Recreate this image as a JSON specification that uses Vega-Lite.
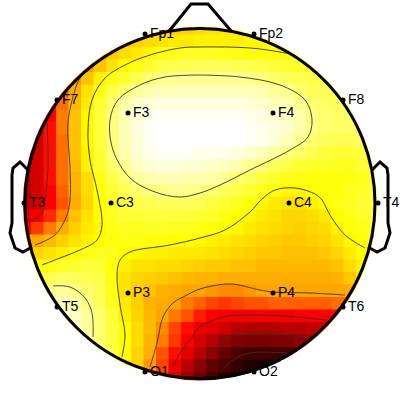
{"$schema":"https://vega.github.io/schema/vega-lite/v6.json","width":400,"height":400,"padding":0,"autosize":"none","background":"white","config":{"view":{"stroke":null}},
"datasets":{"cells":[
{"x":-4,"y":14,"v":33},{"x":-3,"y":14,"v":33},{"x":-2,"y":14,"v":32},{"x":-1,"y":14,"v":31},{"x":0,"y":14,"v":30},{"x":1,"y":14,"v":29},{"x":2,"y":14,"v":28},{"x":3,"y":14,"v":28},{"x":4,"y":14,"v":27},
{"x":-6,"y":13,"v":33},{"x":-5,"y":13,"v":32},{"x":-4,"y":13,"v":30},{"x":-3,"y":13,"v":29},{"x":-2,"y":13,"v":28},{"x":-1,"y":13,"v":28},{"x":0,"y":13,"v":27},{"x":1,"y":13,"v":27},{"x":2,"y":13,"v":27},{"x":3,"y":13,"v":27},{"x":4,"y":13,"v":26},{"x":5,"y":13,"v":26},{"x":6,"y":13,"v":25},{"x":7,"y":13,"v":25},
{"x":-8,"y":12,"v":37},{"x":-7,"y":12,"v":33},{"x":-6,"y":12,"v":30},{"x":-5,"y":12,"v":28},{"x":-4,"y":12,"v":26},{"x":-3,"y":12,"v":23},{"x":-2,"y":12,"v":23},{"x":-1,"y":12,"v":22},{"x":0,"y":12,"v":22},{"x":1,"y":12,"v":22},{"x":2,"y":12,"v":23},{"x":3,"y":12,"v":23},{"x":4,"y":12,"v":24},{"x":5,"y":12,"v":24},{"x":6,"y":12,"v":25},{"x":7,"y":12,"v":25},{"x":8,"y":12,"v":24},
{"x":-9,"y":11,"v":39},{"x":-8,"y":11,"v":34},{"x":-7,"y":11,"v":29},{"x":-6,"y":11,"v":25},{"x":-5,"y":11,"v":23},{"x":-4,"y":11,"v":20},{"x":-3,"y":11,"v":18},{"x":-2,"y":11,"v":17},{"x":-1,"y":11,"v":17},{"x":0,"y":11,"v":16},{"x":1,"y":11,"v":16},{"x":2,"y":11,"v":16},{"x":3,"y":11,"v":17},{"x":4,"y":11,"v":17},{"x":5,"y":11,"v":18},{"x":6,"y":11,"v":19},{"x":7,"y":11,"v":20},{"x":8,"y":11,"v":21},{"x":9,"y":11,"v":21},
{"x":-10,"y":10,"v":39},{"x":-9,"y":10,"v":34},{"x":-8,"y":10,"v":27},{"x":-7,"y":10,"v":23},{"x":-6,"y":10,"v":20},{"x":-5,"y":10,"v":17},{"x":-4,"y":10,"v":14},{"x":-3,"y":10,"v":12},{"x":-2,"y":10,"v":11},{"x":-1,"y":10,"v":11},{"x":0,"y":10,"v":11},{"x":1,"y":10,"v":11},{"x":2,"y":10,"v":11},{"x":3,"y":10,"v":11},{"x":4,"y":10,"v":12},{"x":5,"y":10,"v":13},{"x":6,"y":10,"v":15},{"x":7,"y":10,"v":16},{"x":8,"y":10,"v":17},{"x":9,"y":10,"v":18},{"x":10,"y":10,"v":18},
{"x":-11,"y":9,"v":43},{"x":-10,"y":9,"v":37},{"x":-9,"y":9,"v":29},{"x":-8,"y":9,"v":23},{"x":-7,"y":9,"v":18},{"x":-6,"y":9,"v":14},{"x":-5,"y":9,"v":10},{"x":-4,"y":9,"v":8},{"x":-3,"y":9,"v":7},{"x":-2,"y":9,"v":7},{"x":-1,"y":9,"v":7},{"x":0,"y":9,"v":7},{"x":1,"y":9,"v":7},{"x":2,"y":9,"v":7},{"x":3,"y":9,"v":7},{"x":4,"y":9,"v":7},{"x":5,"y":9,"v":8},{"x":6,"y":9,"v":10},{"x":7,"y":9,"v":11},{"x":8,"y":9,"v":14},{"x":9,"y":9,"v":16},{"x":10,"y":9,"v":17},{"x":11,"y":9,"v":17},
{"x":-12,"y":8,"v":48},{"x":-11,"y":8,"v":42},{"x":-10,"y":8,"v":35},{"x":-9,"y":8,"v":28},{"x":-8,"y":8,"v":20},{"x":-7,"y":8,"v":14},{"x":-6,"y":8,"v":9},{"x":-5,"y":8,"v":5},{"x":-4,"y":8,"v":4},{"x":-3,"y":8,"v":3},{"x":-2,"y":8,"v":3},{"x":-1,"y":8,"v":3},{"x":0,"y":8,"v":3},{"x":1,"y":8,"v":3},{"x":2,"y":8,"v":3},{"x":3,"y":8,"v":3},{"x":4,"y":8,"v":4},{"x":5,"y":8,"v":5},{"x":6,"y":8,"v":7},{"x":7,"y":8,"v":8},{"x":8,"y":8,"v":11},{"x":9,"y":8,"v":14},{"x":10,"y":8,"v":15},{"x":11,"y":8,"v":16},{"x":12,"y":8,"v":16},
{"x":-13,"y":7,"v":57},{"x":-12,"y":7,"v":50},{"x":-11,"y":7,"v":41},{"x":-10,"y":7,"v":34},{"x":-9,"y":7,"v":26},{"x":-8,"y":7,"v":19},{"x":-7,"y":7,"v":13},{"x":-6,"y":7,"v":7},{"x":-5,"y":7,"v":4},{"x":-4,"y":7,"v":2},{"x":-3,"y":7,"v":1},{"x":-2,"y":7,"v":1},{"x":-1,"y":7,"v":1},{"x":0,"y":7,"v":1},{"x":1,"y":7,"v":1},{"x":2,"y":7,"v":1},{"x":3,"y":7,"v":1},{"x":4,"y":7,"v":2},{"x":5,"y":7,"v":3},{"x":6,"y":7,"v":4},{"x":7,"y":7,"v":6},{"x":8,"y":7,"v":8},{"x":9,"y":7,"v":12},{"x":10,"y":7,"v":14},{"x":11,"y":7,"v":15},{"x":12,"y":7,"v":15},{"x":13,"y":7,"v":15},
{"x":-13,"y":6,"v":57},{"x":-12,"y":6,"v":49},{"x":-11,"y":6,"v":41},{"x":-10,"y":6,"v":34},{"x":-9,"y":6,"v":26},{"x":-8,"y":6,"v":19},{"x":-7,"y":6,"v":13},{"x":-6,"y":6,"v":7},{"x":-5,"y":6,"v":3},{"x":-4,"y":6,"v":1},{"x":-3,"y":6,"v":0},{"x":-2,"y":6,"v":0},{"x":-1,"y":6,"v":0},{"x":0,"y":6,"v":0},{"x":1,"y":6,"v":0},{"x":2,"y":6,"v":0},{"x":3,"y":6,"v":0},{"x":4,"y":6,"v":1},{"x":5,"y":6,"v":2},{"x":6,"y":6,"v":3},{"x":7,"y":6,"v":5},{"x":8,"y":6,"v":8},{"x":9,"y":6,"v":12},{"x":10,"y":6,"v":14},{"x":11,"y":6,"v":15},{"x":12,"y":6,"v":15},{"x":13,"y":6,"v":15},
{"x":-14,"y":5,"v":60},{"x":-13,"y":5,"v":57},{"x":-12,"y":5,"v":49},{"x":-11,"y":5,"v":42},{"x":-10,"y":5,"v":34},{"x":-9,"y":5,"v":26},{"x":-8,"y":5,"v":19},{"x":-7,"y":5,"v":13},{"x":-6,"y":5,"v":7},{"x":-5,"y":5,"v":4},{"x":-4,"y":5,"v":1},{"x":-3,"y":5,"v":0},{"x":-2,"y":5,"v":0},{"x":-1,"y":5,"v":0},{"x":0,"y":5,"v":0},{"x":1,"y":5,"v":0},{"x":2,"y":5,"v":0},{"x":3,"y":5,"v":0},{"x":4,"y":5,"v":1},{"x":5,"y":5,"v":2},{"x":6,"y":5,"v":4},{"x":7,"y":5,"v":7},{"x":8,"y":5,"v":11},{"x":9,"y":5,"v":14},{"x":10,"y":5,"v":16},{"x":11,"y":5,"v":17},{"x":12,"y":5,"v":17},{"x":13,"y":5,"v":16},{"x":14,"y":5,"v":16},
{"x":-14,"y":4,"v":60},{"x":-13,"y":4,"v":57},{"x":-12,"y":4,"v":49},{"x":-11,"y":4,"v":42},{"x":-10,"y":4,"v":34},{"x":-9,"y":4,"v":27},{"x":-8,"y":4,"v":20},{"x":-7,"y":4,"v":13},{"x":-6,"y":4,"v":8},{"x":-5,"y":4,"v":4},{"x":-4,"y":4,"v":2},{"x":-3,"y":4,"v":1},{"x":-2,"y":4,"v":1},{"x":-1,"y":4,"v":1},{"x":0,"y":4,"v":2},{"x":1,"y":4,"v":2},{"x":2,"y":4,"v":2},{"x":3,"y":4,"v":3},{"x":4,"y":4,"v":5},{"x":5,"y":4,"v":7},{"x":6,"y":4,"v":10},{"x":7,"y":4,"v":13},{"x":8,"y":4,"v":15},{"x":9,"y":4,"v":17},{"x":10,"y":4,"v":19},{"x":11,"y":4,"v":20},{"x":12,"y":4,"v":20},{"x":13,"y":4,"v":19},{"x":14,"y":4,"v":18},
{"x":-14,"y":3,"v":60},{"x":-13,"y":3,"v":56},{"x":-12,"y":3,"v":49},{"x":-11,"y":3,"v":42},{"x":-10,"y":3,"v":35},{"x":-9,"y":3,"v":27},{"x":-8,"y":3,"v":21},{"x":-7,"y":3,"v":15},{"x":-6,"y":3,"v":11},{"x":-5,"y":3,"v":6},{"x":-4,"y":3,"v":4},{"x":-3,"y":3,"v":3},{"x":-2,"y":3,"v":3},{"x":-1,"y":3,"v":4},{"x":0,"y":3,"v":4},{"x":1,"y":3,"v":5},{"x":2,"y":3,"v":6},{"x":3,"y":3,"v":8},{"x":4,"y":3,"v":11},{"x":5,"y":3,"v":13},{"x":6,"y":3,"v":16},{"x":7,"y":3,"v":18},{"x":8,"y":3,"v":20},{"x":9,"y":3,"v":21},{"x":10,"y":3,"v":21},{"x":11,"y":3,"v":22},{"x":12,"y":3,"v":22},{"x":13,"y":3,"v":20},{"x":14,"y":3,"v":19},
{"x":-14,"y":2,"v":60},{"x":-13,"y":2,"v":56},{"x":-12,"y":2,"v":49},{"x":-11,"y":2,"v":42},{"x":-10,"y":2,"v":36},{"x":-9,"y":2,"v":30},{"x":-8,"y":2,"v":23},{"x":-7,"y":2,"v":18},{"x":-6,"y":2,"v":14},{"x":-5,"y":2,"v":10},{"x":-4,"y":2,"v":8},{"x":-3,"y":2,"v":7},{"x":-2,"y":2,"v":7},{"x":-1,"y":2,"v":8},{"x":0,"y":2,"v":8},{"x":1,"y":2,"v":9},{"x":2,"y":2,"v":11},{"x":3,"y":2,"v":14},{"x":4,"y":2,"v":16},{"x":5,"y":2,"v":19},{"x":6,"y":2,"v":21},{"x":7,"y":2,"v":23},{"x":8,"y":2,"v":23},{"x":9,"y":2,"v":24},{"x":10,"y":2,"v":24},{"x":11,"y":2,"v":24},{"x":12,"y":2,"v":23},{"x":13,"y":2,"v":22},{"x":14,"y":2,"v":20},
{"x":-14,"y":1,"v":60},{"x":-13,"y":1,"v":56},{"x":-12,"y":1,"v":50},{"x":-11,"y":1,"v":43},{"x":-10,"y":1,"v":36},{"x":-9,"y":1,"v":30},{"x":-8,"y":1,"v":24},{"x":-7,"y":1,"v":20},{"x":-6,"y":1,"v":17},{"x":-5,"y":1,"v":14},{"x":-4,"y":1,"v":13},{"x":-3,"y":1,"v":12},{"x":-2,"y":1,"v":11},{"x":-1,"y":1,"v":11},{"x":0,"y":1,"v":12},{"x":1,"y":1,"v":14},{"x":2,"y":1,"v":16},{"x":3,"y":1,"v":18},{"x":4,"y":1,"v":20},{"x":5,"y":1,"v":22},{"x":6,"y":1,"v":24},{"x":7,"y":1,"v":26},{"x":8,"y":1,"v":26},{"x":9,"y":1,"v":25},{"x":10,"y":1,"v":24},{"x":11,"y":1,"v":24},{"x":12,"y":1,"v":22},{"x":13,"y":1,"v":21},{"x":14,"y":1,"v":20},
{"x":-14,"y":0,"v":59},{"x":-13,"y":0,"v":56},{"x":-12,"y":0,"v":50},{"x":-11,"y":0,"v":44},{"x":-10,"y":0,"v":37},{"x":-9,"y":0,"v":31},{"x":-8,"y":0,"v":25},{"x":-7,"y":0,"v":22},{"x":-6,"y":0,"v":19},{"x":-5,"y":0,"v":18},{"x":-4,"y":0,"v":17},{"x":-3,"y":0,"v":16},{"x":-2,"y":0,"v":16},{"x":-1,"y":0,"v":16},{"x":0,"y":0,"v":17},{"x":1,"y":0,"v":19},{"x":2,"y":0,"v":20},{"x":3,"y":0,"v":22},{"x":4,"y":0,"v":24},{"x":5,"y":0,"v":26},{"x":6,"y":0,"v":28},{"x":7,"y":0,"v":29},{"x":8,"y":0,"v":30},{"x":9,"y":0,"v":27},{"x":10,"y":0,"v":25},{"x":11,"y":0,"v":23},{"x":12,"y":0,"v":22},{"x":13,"y":0,"v":20},{"x":14,"y":0,"v":19},
{"x":-14,"y":-1,"v":55},{"x":-13,"y":-1,"v":51},{"x":-12,"y":-1,"v":47},{"x":-11,"y":-1,"v":41},{"x":-10,"y":-1,"v":34},{"x":-9,"y":-1,"v":29},{"x":-8,"y":-1,"v":25},{"x":-7,"y":-1,"v":22},{"x":-6,"y":-1,"v":20},{"x":-5,"y":-1,"v":20},{"x":-4,"y":-1,"v":19},{"x":-3,"y":-1,"v":19},{"x":-2,"y":-1,"v":19},{"x":-1,"y":-1,"v":19},{"x":0,"y":-1,"v":20},{"x":1,"y":-1,"v":21},{"x":2,"y":-1,"v":23},{"x":3,"y":-1,"v":25},{"x":4,"y":-1,"v":26},{"x":5,"y":-1,"v":28},{"x":6,"y":-1,"v":29},{"x":7,"y":-1,"v":31},{"x":8,"y":-1,"v":31},{"x":9,"y":-1,"v":30},{"x":10,"y":-1,"v":28},{"x":11,"y":-1,"v":25},{"x":12,"y":-1,"v":23},{"x":13,"y":-1,"v":21},{"x":14,"y":-1,"v":20},
{"x":-14,"y":-2,"v":50},{"x":-13,"y":-2,"v":46},{"x":-12,"y":-2,"v":41},{"x":-11,"y":-2,"v":37},{"x":-10,"y":-2,"v":32},{"x":-9,"y":-2,"v":28},{"x":-8,"y":-2,"v":26},{"x":-7,"y":-2,"v":23},{"x":-6,"y":-2,"v":22},{"x":-5,"y":-2,"v":22},{"x":-4,"y":-2,"v":21},{"x":-3,"y":-2,"v":21},{"x":-2,"y":-2,"v":22},{"x":-1,"y":-2,"v":22},{"x":0,"y":-2,"v":23},{"x":1,"y":-2,"v":24},{"x":2,"y":-2,"v":25},{"x":3,"y":-2,"v":26},{"x":4,"y":-2,"v":28},{"x":5,"y":-2,"v":29},{"x":6,"y":-2,"v":30},{"x":7,"y":-2,"v":31},{"x":8,"y":-2,"v":32},{"x":9,"y":-2,"v":31},{"x":10,"y":-2,"v":30},{"x":11,"y":-2,"v":27},{"x":12,"y":-2,"v":24},{"x":13,"y":-2,"v":23},{"x":14,"y":-2,"v":21},
{"x":-14,"y":-3,"v":39},{"x":-13,"y":-3,"v":38},{"x":-12,"y":-3,"v":35},{"x":-11,"y":-3,"v":32},{"x":-10,"y":-3,"v":29},{"x":-9,"y":-3,"v":27},{"x":-8,"y":-3,"v":25},{"x":-7,"y":-3,"v":24},{"x":-6,"y":-3,"v":23},{"x":-5,"y":-3,"v":23},{"x":-4,"y":-3,"v":24},{"x":-3,"y":-3,"v":24},{"x":-2,"y":-3,"v":25},{"x":-1,"y":-3,"v":25},{"x":0,"y":-3,"v":26},{"x":1,"y":-3,"v":27},{"x":2,"y":-3,"v":28},{"x":3,"y":-3,"v":29},{"x":4,"y":-3,"v":30},{"x":5,"y":-3,"v":31},{"x":6,"y":-3,"v":32},{"x":7,"y":-3,"v":33},{"x":8,"y":-3,"v":33},{"x":9,"y":-3,"v":32},{"x":10,"y":-3,"v":31},{"x":11,"y":-3,"v":29},{"x":12,"y":-3,"v":26},{"x":13,"y":-3,"v":24},{"x":14,"y":-3,"v":22},
{"x":-14,"y":-4,"v":33},{"x":-13,"y":-4,"v":31},{"x":-12,"y":-4,"v":29},{"x":-11,"y":-4,"v":27},{"x":-10,"y":-4,"v":25},{"x":-9,"y":-4,"v":23},{"x":-8,"y":-4,"v":22},{"x":-7,"y":-4,"v":22},{"x":-6,"y":-4,"v":25},{"x":-5,"y":-4,"v":26},{"x":-4,"y":-4,"v":27},{"x":-3,"y":-4,"v":27},{"x":-2,"y":-4,"v":28},{"x":-1,"y":-4,"v":28},{"x":0,"y":-4,"v":28},{"x":1,"y":-4,"v":29},{"x":2,"y":-4,"v":30},{"x":3,"y":-4,"v":31},{"x":4,"y":-4,"v":32},{"x":5,"y":-4,"v":33},{"x":6,"y":-4,"v":33},{"x":7,"y":-4,"v":34},{"x":8,"y":-4,"v":34},{"x":9,"y":-4,"v":34},{"x":10,"y":-4,"v":33},{"x":11,"y":-4,"v":31},{"x":12,"y":-4,"v":28},{"x":13,"y":-4,"v":25},{"x":14,"y":-4,"v":22},
{"x":-13,"y":-5,"v":25},{"x":-12,"y":-5,"v":23},{"x":-11,"y":-5,"v":21},{"x":-10,"y":-5,"v":20},{"x":-9,"y":-5,"v":19},{"x":-8,"y":-5,"v":20},{"x":-7,"y":-5,"v":24},{"x":-6,"y":-5,"v":27},{"x":-5,"y":-5,"v":29},{"x":-4,"y":-5,"v":29},{"x":-3,"y":-5,"v":30},{"x":-2,"y":-5,"v":30},{"x":-1,"y":-5,"v":31},{"x":0,"y":-5,"v":32},{"x":1,"y":-5,"v":33},{"x":2,"y":-5,"v":33},{"x":3,"y":-5,"v":34},{"x":4,"y":-5,"v":34},{"x":5,"y":-5,"v":35},{"x":6,"y":-5,"v":35},{"x":7,"y":-5,"v":35},{"x":8,"y":-5,"v":35},{"x":9,"y":-5,"v":35},{"x":10,"y":-5,"v":35},{"x":11,"y":-5,"v":34},{"x":12,"y":-5,"v":30},{"x":13,"y":-5,"v":27},
{"x":-13,"y":-6,"v":20},{"x":-12,"y":-6,"v":17},{"x":-11,"y":-6,"v":15},{"x":-10,"y":-6,"v":16},{"x":-9,"y":-6,"v":17},{"x":-8,"y":-6,"v":18},{"x":-7,"y":-6,"v":24},{"x":-6,"y":-6,"v":29},{"x":-5,"y":-6,"v":31},{"x":-4,"y":-6,"v":32},{"x":-3,"y":-6,"v":33},{"x":-2,"y":-6,"v":34},{"x":-1,"y":-6,"v":35},{"x":0,"y":-6,"v":36},{"x":1,"y":-6,"v":36},{"x":2,"y":-6,"v":37},{"x":3,"y":-6,"v":37},{"x":4,"y":-6,"v":37},{"x":5,"y":-6,"v":37},{"x":6,"y":-6,"v":37},{"x":7,"y":-6,"v":37},{"x":8,"y":-6,"v":37},{"x":9,"y":-6,"v":37},{"x":10,"y":-6,"v":37},{"x":11,"y":-6,"v":36},{"x":12,"y":-6,"v":33},{"x":13,"y":-6,"v":29},
{"x":-12,"y":-7,"v":11},{"x":-11,"y":-7,"v":10},{"x":-10,"y":-7,"v":12},{"x":-9,"y":-7,"v":14},{"x":-8,"y":-7,"v":17},{"x":-7,"y":-7,"v":23},{"x":-6,"y":-7,"v":29},{"x":-5,"y":-7,"v":32},{"x":-4,"y":-7,"v":34},{"x":-3,"y":-7,"v":36},{"x":-2,"y":-7,"v":37},{"x":-1,"y":-7,"v":38},{"x":0,"y":-7,"v":38},{"x":1,"y":-7,"v":39},{"x":2,"y":-7,"v":40},{"x":3,"y":-7,"v":40},{"x":4,"y":-7,"v":39},{"x":5,"y":-7,"v":38},{"x":6,"y":-7,"v":38},{"x":7,"y":-7,"v":38},{"x":8,"y":-7,"v":38},{"x":9,"y":-7,"v":38},{"x":10,"y":-7,"v":38},{"x":11,"y":-7,"v":38},{"x":12,"y":-7,"v":37},
{"x":-12,"y":-8,"v":8},{"x":-11,"y":-8,"v":6},{"x":-10,"y":-8,"v":8},{"x":-9,"y":-8,"v":12},{"x":-8,"y":-8,"v":16},{"x":-7,"y":-8,"v":22},{"x":-6,"y":-8,"v":28},{"x":-5,"y":-8,"v":32},{"x":-4,"y":-8,"v":36},{"x":-3,"y":-8,"v":37},{"x":-2,"y":-8,"v":38},{"x":-1,"y":-8,"v":41},{"x":0,"y":-8,"v":43},{"x":1,"y":-8,"v":45},{"x":2,"y":-8,"v":46},{"x":3,"y":-8,"v":45},{"x":4,"y":-8,"v":44},{"x":5,"y":-8,"v":44},{"x":6,"y":-8,"v":43},{"x":7,"y":-8,"v":43},{"x":8,"y":-8,"v":43},{"x":9,"y":-8,"v":43},{"x":10,"y":-8,"v":43},{"x":11,"y":-8,"v":42},{"x":12,"y":-8,"v":41},
{"x":-12,"y":-9,"v":5},{"x":-11,"y":-9,"v":3},{"x":-10,"y":-9,"v":6},{"x":-9,"y":-9,"v":10},{"x":-8,"y":-9,"v":14},{"x":-7,"y":-9,"v":20},{"x":-6,"y":-9,"v":27},{"x":-5,"y":-9,"v":31},{"x":-4,"y":-9,"v":35},{"x":-3,"y":-9,"v":38},{"x":-2,"y":-9,"v":41},{"x":-1,"y":-9,"v":44},{"x":0,"y":-9,"v":48},{"x":1,"y":-9,"v":50},{"x":2,"y":-9,"v":51},{"x":3,"y":-9,"v":51},{"x":4,"y":-9,"v":51},{"x":5,"y":-9,"v":51},{"x":6,"y":-9,"v":51},{"x":7,"y":-9,"v":51},{"x":8,"y":-9,"v":50},{"x":9,"y":-9,"v":50},{"x":10,"y":-9,"v":50},{"x":11,"y":-9,"v":49},
{"x":-11,"y":-10,"v":1},{"x":-10,"y":-10,"v":5},{"x":-9,"y":-10,"v":10},{"x":-8,"y":-10,"v":14},{"x":-7,"y":-10,"v":19},{"x":-6,"y":-10,"v":25},{"x":-5,"y":-10,"v":30},{"x":-4,"y":-10,"v":35},{"x":-3,"y":-10,"v":40},{"x":-2,"y":-10,"v":45},{"x":-1,"y":-10,"v":49},{"x":0,"y":-10,"v":52},{"x":1,"y":-10,"v":54},{"x":2,"y":-10,"v":57},{"x":3,"y":-10,"v":60},{"x":4,"y":-10,"v":61},{"x":5,"y":-10,"v":61},{"x":6,"y":-10,"v":61},{"x":7,"y":-10,"v":60},{"x":8,"y":-10,"v":60},{"x":9,"y":-10,"v":59},{"x":10,"y":-10,"v":57},
{"x":-10,"y":-11,"v":5},{"x":-9,"y":-11,"v":9},{"x":-8,"y":-11,"v":14},{"x":-7,"y":-11,"v":19},{"x":-6,"y":-11,"v":25},{"x":-5,"y":-11,"v":30},{"x":-4,"y":-11,"v":36},{"x":-3,"y":-11,"v":41},{"x":-2,"y":-11,"v":46},{"x":-1,"y":-11,"v":50},{"x":0,"y":-11,"v":56},{"x":1,"y":-11,"v":60},{"x":2,"y":-11,"v":65},{"x":3,"y":-11,"v":68},{"x":4,"y":-11,"v":69},{"x":5,"y":-11,"v":69},{"x":6,"y":-11,"v":68},{"x":7,"y":-11,"v":68},{"x":8,"y":-11,"v":66},{"x":9,"y":-11,"v":63},{"x":10,"y":-11,"v":60},
{"x":-8,"y":-12,"v":14},{"x":-7,"y":-12,"v":18},{"x":-6,"y":-12,"v":25},{"x":-5,"y":-12,"v":31},{"x":-4,"y":-12,"v":37},{"x":-3,"y":-12,"v":44},{"x":-2,"y":-12,"v":49},{"x":-1,"y":-12,"v":54},{"x":0,"y":-12,"v":60},{"x":1,"y":-12,"v":66},{"x":2,"y":-12,"v":72},{"x":3,"y":-12,"v":76},{"x":4,"y":-12,"v":78},{"x":5,"y":-12,"v":78},{"x":6,"y":-12,"v":78},{"x":7,"y":-12,"v":77},{"x":8,"y":-12,"v":73},
{"x":-6,"y":-13,"v":28},{"x":-5,"y":-13,"v":31},{"x":-4,"y":-13,"v":39},{"x":-3,"y":-13,"v":45},{"x":-2,"y":-13,"v":52},{"x":-1,"y":-13,"v":60},{"x":0,"y":-13,"v":66},{"x":1,"y":-13,"v":73},{"x":2,"y":-13,"v":76},{"x":3,"y":-13,"v":80},{"x":4,"y":-13,"v":84},{"x":5,"y":-13,"v":85},{"x":6,"y":-13,"v":84},
{"x":-4,"y":-14,"v":40},{"x":-3,"y":-14,"v":47},{"x":-2,"y":-14,"v":55},{"x":-1,"y":-14,"v":64},{"x":0,"y":-14,"v":71},{"x":1,"y":-14,"v":76},{"x":2,"y":-14,"v":82},{"x":3,"y":-14,"v":87},{"x":4,"y":-14,"v":88}
],
"contours":[
{"c":"A","x":0,"y":10.28},{"c":"A","x":3.2,"y":10.12},{"c":"A","x":6.4,"y":9.48},{"c":"A","x":8.4,"y":8.28},{"c":"A","x":8.96,"y":6.68},{"c":"A","x":8.64,"y":5.32},{"c":"A","x":7.2,"y":4.28},{"c":"A","x":4,"y":2.68},{"c":"A","x":1.6,"y":1.48},{"c":"A","x":0,"y":0.84},{"c":"A","x":-1.6,"y":0.52},{"c":"A","x":-3.6,"y":0.92},{"c":"A","x":-5.6,"y":2.04},{"c":"A","x":-6.96,"y":4.28},{"c":"A","x":-7.2,"y":6.68},{"c":"A","x":-6.56,"y":8.28},{"c":"A","x":-4.8,"y":9.48},{"c":"A","x":-2.8,"y":10.12},{"c":"A","x":0,"y":10.28},
{"c":"B","x":7.6,"y":11.88},{"c":"B","x":6.4,"y":12.12},{"c":"B","x":4,"y":12.44},{"c":"B","x":0,"y":12.52},{"c":"B","x":-1.6,"y":12.44},{"c":"B","x":-4,"y":11.88},{"c":"B","x":-6,"y":11.08},{"c":"B","x":-7.6,"y":10.04},{"c":"B","x":-8.64,"y":8.28},{"c":"B","x":-8.96,"y":5.88},{"c":"B","x":-8.8,"y":3.48},{"c":"B","x":-8.24,"y":1.08},{"c":"B","x":-7.84,"y":-1.72},{"c":"B","x":-8.24,"y":-2.92},{"c":"B","x":-9.6,"y":-3.72},{"c":"B","x":-11.2,"y":-4.36},{"c":"B","x":-12.64,"y":-4.92},
{"c":"C","x":13.2,"y":-3.56},{"c":"C","x":11.6,"y":-2.52},{"c":"C","x":10.4,"y":-0.92},{"c":"C","x":9.76,"y":0.28},{"c":"C","x":9.2,"y":0.76},{"c":"C","x":7.6,"y":1.24},{"c":"C","x":6,"y":1.08},{"c":"C","x":4.96,"y":0.36},{"c":"C","x":4,"y":-0.68},{"c":"C","x":2,"y":-2.12},{"c":"C","x":0,"y":-2.76},{"c":"C","x":-2.4,"y":-3.32},{"c":"C","x":-5.6,"y":-3.88},{"c":"C","x":-6.4,"y":-4.52},{"c":"C","x":-6.64,"y":-5.72},{"c":"C","x":-6.4,"y":-8.12},{"c":"C","x":-6,"y":-10.52},{"c":"C","x":-6.24,"y":-12.28},
{"c":"D","x":-8.56,"y":11.24},{"c":"D","x":-9.6,"y":10.04},{"c":"D","x":-10,"y":9.08},{"c":"D","x":-10.56,"y":6.44},{"c":"D","x":-10.4,"y":2.92},{"c":"D","x":-10.4,"y":0.28},{"c":"D","x":-10.64,"y":-0.92},{"c":"D","x":-11.6,"y":-2.52},{"c":"D","x":-13.2,"y":-3.32},
{"c":"E","x":-12.24,"y":6.52},{"c":"E","x":-12.16,"y":2.92},{"c":"E","x":-12.4,"y":0.28},{"c":"E","x":-12.64,"y":-0.76},{"c":"E","x":-13.6,"y":-1.48},
{"c":"F","x":-11.76,"y":-6.6},{"c":"F","x":-10.4,"y":-6.68},{"c":"F","x":-9.2,"y":-7.56},{"c":"F","x":-8.64,"y":-8.76},{"c":"F","x":-8.56,"y":-10.68},
{"c":"G","x":-4,"y":-13.08},{"c":"G","x":-3.44,"y":-11.16},{"c":"G","x":-2.96,"y":-9.08},{"c":"G","x":-2.16,"y":-7.96},{"c":"G","x":-1.04,"y":-7.32},{"c":"G","x":0,"y":-6.84},{"c":"G","x":2.4,"y":-6.44},{"c":"G","x":4.8,"y":-6.92},{"c":"G","x":5.84,"y":-7.08},{"c":"G","x":8.8,"y":-7.16},{"c":"G","x":11.6,"y":-7.32},
{"c":"H","x":-2.16,"y":-13.08},{"c":"H","x":-1.6,"y":-11.96},{"c":"H","x":-0.8,"y":-10.92},{"c":"H","x":0,"y":-9.88},{"c":"H","x":1.84,"y":-9.08},{"c":"H","x":4,"y":-8.92},{"c":"H","x":6.64,"y":-9},{"c":"H","x":10.16,"y":-9.32},
{"c":"I","x":-0.56,"y":-13.32},{"c":"I","x":0,"y":-12.76},{"c":"I","x":1.6,"y":-11.08},{"c":"I","x":2.96,"y":-10.52},{"c":"I","x":4.8,"y":-10.36},{"c":"I","x":8.56,"y":-10.68},
{"c":"J","x":1.6,"y":-13.56},{"c":"J","x":2.64,"y":-12.52},{"c":"J","x":4,"y":-11.96},{"c":"J","x":6.96,"y":-11.96}
],
"outline":[
{"c":"earL","x":-13.76,"y":2.68},{"c":"earL","x":-14.4,"y":3.32},{"c":"earL","x":-14.96,"y":2.84},{"c":"earL","x":-15.04,"y":2.28},{"c":"earL","x":-15.04,"y":0.28},{"c":"earL","x":-15.04,"y":-1.56},{"c":"earL","x":-15.2,"y":-2.36},{"c":"earL","x":-14.8,"y":-3.56},{"c":"earL","x":-14.16,"y":-3.88},{"c":"earL","x":-13.44,"y":-3.48},
{"c":"earR","x":13.76,"y":2.68},{"c":"earR","x":14.4,"y":3.32},{"c":"earR","x":14.96,"y":2.84},{"c":"earR","x":15.04,"y":2.28},{"c":"earR","x":15.04,"y":0.28},{"c":"earR","x":15.04,"y":-1.56},{"c":"earR","x":15.2,"y":-2.36},{"c":"earR","x":14.8,"y":-3.56},{"c":"earR","x":14.16,"y":-3.88},{"c":"earR","x":13.44,"y":-3.48},
{"c":"nose","x":-2.4,"y":13.88},{"c":"nose","x":-0.72,"y":15.96},{"c":"nose","x":0.64,"y":15.96},{"c":"nose","x":2.56,"y":13.72}
],
"electrodes":[
{"n":"Fp1","x":-4.4,"y":13.56},{"n":"Fp2","x":4.32,"y":13.56},{"n":"F7","x":-11.44,"y":8.28},{"n":"F8","x":11.44,"y":8.28},{"n":"F3","x":-5.76,"y":7.24},{"n":"F4","x":5.84,"y":7.24},{"n":"T3","x":-14.08,"y":0.04},{"n":"C3","x":-7.12,"y":0.04},{"n":"C4","x":7.12,"y":0.04},{"n":"T4","x":14.24,"y":0.04},{"n":"T5","x":-11.44,"y":-8.28},{"n":"T6","x":11.44,"y":-8.28},{"n":"P3","x":-5.76,"y":-7.16},{"n":"P4","x":5.84,"y":-7.16},{"n":"O1","x":-4.4,"y":-13.48},{"n":"O2","x":4.32,"y":-13.48}
],
"centre":[{"x":0,"y":0}]},
"encoding":{"x":{"field":"x","type":"quantitative","scale":{"domain":[-16,16],"nice":false,"zero":false},"axis":null},"y":{"field":"y","type":"quantitative","scale":{"domain":[-15.72,16.28],"nice":false,"zero":false},"axis":null}},
"layer":[
{"data":{"name":"cells"},"mark":{"type":"rect","width":13,"height":13},"encoding":{"color":{"field":"v","type":"quantitative","legend":null,"scale":{"interpolate":"rgb","domain":[0,25,38,50,75,90],"range":["#ffffff","#ffff00","#ffa500","#ff0000","#500000","#000000"]}}}},
{"data":{"name":"centre"},"mark":{"type":"point","filled":false,"size":163216,"stroke":"white","strokeWidth":50,"opacity":1}},
{"data":{"name":"contours"},"mark":{"type":"line","stroke":"#333333","strokeWidth":0.9,"interpolate":"catmull-rom"},"encoding":{"detail":{"field":"c"},"order":{"value":null}}},
{"data":{"name":"centre"},"mark":{"type":"point","filled":false,"size":122500,"stroke":"black","strokeWidth":3,"opacity":1}},
{"data":{"name":"outline"},"mark":{"type":"line","stroke":"black","strokeWidth":3,"interpolate":"linear"},"encoding":{"detail":{"field":"c"},"order":{"value":null}}},
{"data":{"name":"electrodes"},"mark":{"type":"point","filled":true,"color":"black","size":25,"opacity":1}},
{"data":{"name":"electrodes"},"mark":{"type":"text","align":"left","baseline":"middle","dx":5,"font":"Liberation Sans","fontSize":14,"color":"black"},"encoding":{"text":{"field":"n"}}}
]}
